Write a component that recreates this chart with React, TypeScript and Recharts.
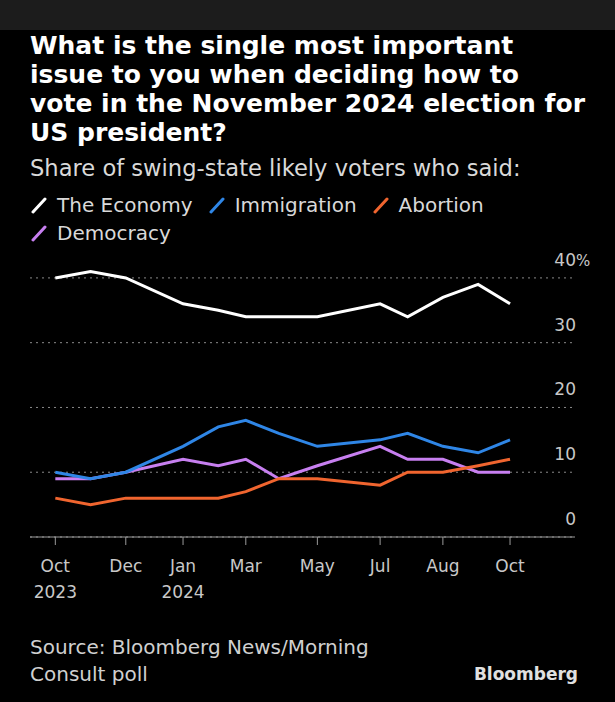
import { LineChart, Line, XAxis, YAxis, CartesianGrid } from 'recharts'

// poll waves, days since the first (Oct 2023) wave
const pollDays = [0, 32, 64, 116, 148, 173, 203, 238, 295, 320, 352, 384, 413]

const economy = [40, 41, 40, 36, 35, 34, 34, 34, 36, 34, 37, 39, 36]
const immigration = [10, 9, 10, 14, 17, 18, 16, 14, 15, 16, 14, 13, 15]
const abortion = [6, 5, 6, 6, 6, 7, 9, 9, 8, 10, 10, 11, 12]
const democracy = [9, 9, 10, 12, 11, 12, 9, 11, 14, 12, 12, 10, 10]

const tickDays = [0, 64, 116, 173, 238, 295, 352, 413]
const tickMonths = ['Oct', 'Dec', 'Jan', 'Mar', 'May', 'Jul', 'Aug', 'Oct']
const tickYears = ['2023', '', '2024', '', '', '', '', '']

const yTicks = [0, 10, 20, 30, 40]

const series = [
  { key: 'democracy', name: 'Democracy', color: '#c77ff0' },
  { key: 'immigration', name: 'Immigration', color: '#2f86e6' },
  { key: 'abortion', name: 'Abortion', color: '#f0652f' },
  { key: 'economy', name: 'The Economy', color: '#ffffff' },
]

const data = pollDays.map((day, i) => ({
  day,
  economy: economy[i],
  immigration: immigration[i],
  abortion: abortion[i],
  democracy: democracy[i],
}))

const font = '"DejaVu Sans", sans-serif'

function XTick({ x, y, payload }: any) {
  const i = tickDays.indexOf(payload.value)
  return (
    <g>
      <text x={x} y={y + 25} textAnchor="middle" fill="#c8c8c8" fontSize={17} fontFamily={font}>
        {tickMonths[i]}
      </text>
      {tickYears[i] && (
        <text x={x} y={y + 51} textAnchor="middle" fill="#c8c8c8" fontSize={17} fontFamily={font}>
          {tickYears[i]}
        </text>
      )}
    </g>
  )
}

// labels sit above their gridline, right-aligned at the plot edge
function YTick({ y, payload }: any) {
  return (
    <g>
      <text x={576} y={y - 12} textAnchor="end" fill="#c8c8c8" fontSize={17} fontFamily={font}>
        {payload.value}
      </text>
      {payload.value === 40 && (
        <text x={576} y={y - 12} textAnchor="start" fill="#c8c8c8" fontSize={15} fontFamily={font}>
          %
        </text>
      )}
    </g>
  )
}

function Slash({ color }: { color: string }) {
  return (
    <svg width={16} height={18} style={{ verticalAlign: -2, marginRight: 10 }}>
      <line x1={2} y1={16} x2={14} y2={3} stroke={color} strokeWidth={3} strokeLinecap="round" />
    </svg>
  )
}

const legendOrder = ['economy', 'immigration', 'abortion', 'democracy']

export default function App() {
  const legendItems = legendOrder.map((k) => series.find((s) => s.key === k)!)
  return (
    <div style={{ position: 'absolute', left: 0, top: 0, width: 615, height: 702, background: '#000', fontFamily: font, overflow: 'hidden' }}>
      <style>{'body{margin:0}'}</style>
      <div style={{ position: 'absolute', left: 0, top: 0, width: 615, height: 30, background: '#1c1c1c' }} />
      <div style={{ position: 'absolute', left: 30, top: 31, color: '#fff', fontWeight: 'bold', fontSize: 25, lineHeight: '29px', whiteSpace: 'nowrap' }}>
        What is the single most important
        <br />
        issue to you when deciding how to
        <br />
        vote in the November 2024 election for
        <br />
        US president?
      </div>
      <div style={{ position: 'absolute', left: 30, top: 154, color: '#d9d9d9', fontSize: 22.6, lineHeight: '28px', whiteSpace: 'nowrap' }}>
        Share of swing-state likely voters who said:
      </div>
      <div style={{ position: 'absolute', left: 31, top: 191, width: 560, color: '#d9d9d9', fontSize: 20, lineHeight: '28px' }}>
        {legendItems.map((s) => (
          <span key={s.key} style={{ display: 'inline-block', marginRight: 16, whiteSpace: 'nowrap' }}>
            <Slash color={s.color} />
            {s.name}
          </span>
        ))}
      </div>
      <div style={{ position: 'absolute', left: 0, top: 240 }}>
        <LineChart width={615} height={370} data={data} margin={{ top: 12, right: 0, left: 30, bottom: 0 }}>
          <CartesianGrid vertical={false} horizontalValues={yTicks} stroke="#8a8a8a" strokeDasharray="2 4" />
          <XAxis
            dataKey="day"
            type="number"
            domain={[-23, 472]}
            ticks={tickDays}
            height={73}
            tickSize={8}
            axisLine={{ stroke: '#9a9a9a' }}
            tickLine={{ stroke: '#9a9a9a' }}
            tick={<XTick />}
            interval={0}
          />
          <YAxis
            orientation="right"
            type="number"
            domain={[0, 44]}
            ticks={yTicks}
            width={40}
            axisLine={false}
            tickLine={false}
            tick={<YTick />}
            interval={0}
          />
          {series.map((s) => (
            <Line
              key={s.key}
              type="linear"
              dataKey={s.key}
              name={s.name}
              stroke={s.color}
              strokeWidth={3}
              dot={false}
              isAnimationActive={false}
            />
          ))}
        </LineChart>
      </div>
      <div style={{ position: 'absolute', left: 30, top: 634, color: '#d0d0d0', fontSize: 20, lineHeight: '27px', whiteSpace: 'nowrap' }}>
        Source: Bloomberg News/Morning
        <br />
        Consult poll
      </div>
      <div style={{ position: 'absolute', right: 37, top: 664, color: '#e0e0e0', fontSize: 17, fontWeight: 'bold', whiteSpace: 'nowrap' }}>
        Bloomberg
      </div>
    </div>
  )
}
